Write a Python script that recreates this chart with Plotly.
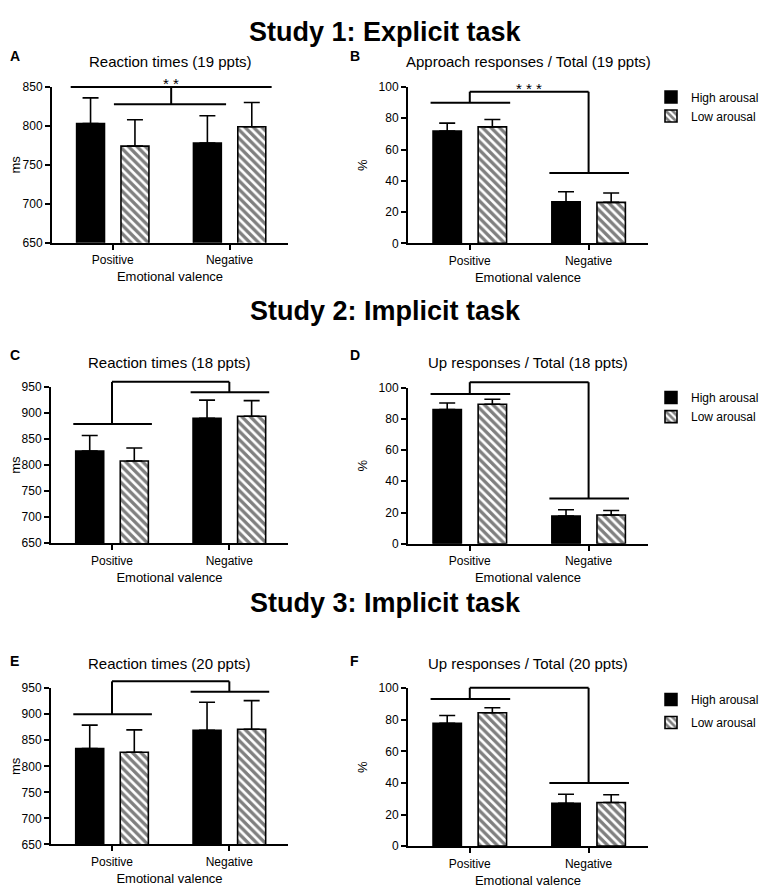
import plotly.graph_objects as go

# ---------------- data ----------------
valence = ["Positive", "Negative"]
series_names = ["High arousal", "Low arousal"]

s1_rt_high = [803, 778]
s1_rt_high_sem = [33, 35]
s1_rt_low = [774, 799]
s1_rt_low_sem = [34, 31]

s1_app_high = [71.9, 26.6]
s1_app_high_sem = [5.0, 6.4]
s1_app_low = [74.5, 26.2]
s1_app_low_sem = [4.7, 6.0]

s2_rt_high = [827, 890]
s2_rt_high_sem = [30, 35]
s2_rt_low = [808, 894]
s2_rt_low_sem = [25, 30]

s2_up_high = [86.0, 17.7]
s2_up_high_sem = [4.2, 4.1]
s2_up_low = [89.4, 18.4]
s2_up_low_sem = [3.2, 2.9]

s3_rt_high = [834, 869]
s3_rt_high_sem = [45, 54]
s3_rt_low = [827, 871]
s3_rt_low_sem = [43, 55]

s3_up_high = [77.8, 27.2]
s3_up_high_sem = [4.9, 5.7]
s3_up_low = [84.4, 27.6]
s3_up_low_sem = [3.2, 4.9]

panel_titles = ["Reaction times (19 ppts)", "Approach responses / Total (19 ppts)",
                "Reaction times (18 ppts)", "Up responses / Total (18 ppts)",
                "Reaction times (20 ppts)", "Up responses / Total (20 ppts)"]
panel_letters = ["A", "B", "C", "D", "E", "F"]
study_titles = ["Study 1: Explicit task", "Study 2: Implicit task", "Study 3: Implicit task"]
y_titles = ["ms", "%", "ms", "%", "ms", "%"]
y_ranges = [[650, 850], [0, 100], [650, 950], [0, 100], [650, 950], [0, 100]]
y_dticks = [50, 20, 50, 20, 50, 20]

# significance brackets: (group-line level Positive, top level, group-line level Negative, stars)
sig_b = [90, 97, 45, "* * *"]
sig_c = [879, 960, 940, "* * *"]
sig_d = [96, 103.5, 29, "* * *"]
sig_e = [900, 963, 943, "*"]
sig_f = [93.2, 100.2, 40, "* * *"]
# panel A: interaction bracket (outer line level, inner line level, stars)
sig_a = [850, 828, "* *"]

FONT = "Liberation Sans, Arial, sans-serif"
W, H = 767, 886
X_RANGE = [-0.52, 1.5]


# map target-picture pixels to figure pixels (page offset compensation)
def px(v):
    return v - 8


def py(v):
    return (v - 14.7) / 0.984


# plot areas in target pixels: (x0, x1, ytop, ybottom)
areas = [
    (52, 288, 86.7, 242.3),
    (408, 648, 86.7, 243.0),
    (51, 288, 386.7, 542.7),
    (408, 648, 387.3, 543.3),
    (51, 288, 687.7, 844.0),
    (408, 648, 687.7, 845.7),
]
letter_y = [56, 56, 355, 355, 661, 661]
title_y = [61, 61.5, 361.7, 361.7, 662.7, 662.7]

fig = go.Figure()

panels = [
    (s1_rt_high, s1_rt_high_sem, s1_rt_low, s1_rt_low_sem),
    (s1_app_high, s1_app_high_sem, s1_app_low, s1_app_low_sem),
    (s2_rt_high, s2_rt_high_sem, s2_rt_low, s2_rt_low_sem),
    (s2_up_high, s2_up_high_sem, s2_up_low, s2_up_low_sem),
    (s3_rt_high, s3_rt_high_sem, s3_rt_low, s3_rt_low_sem),
    (s3_up_high, s3_up_high_sem, s3_up_low, s3_up_low_sem),
]
legend_names = ["legend", "legend", "legend2", "legend2", "legend3", "legend3"]

for i, (hv, hs, lv, ls) in enumerate(panels):
    ax = "" if i == 0 else str(i + 1)
    show = (i % 2 == 1)
    fig.add_trace(go.Bar(
        x=valence, y=hv, name=series_names[0], xaxis="x" + ax, yaxis="y" + ax,
        marker=dict(color="black", line=dict(color="black", width=1.5)),
        error_y=dict(type="data", symmetric=False, array=hs, arrayminus=[0, 0],
                     color="black", thickness=1.6, width=8),
        showlegend=show, legend=legend_names[i], legendgroup="h%d" % i,
    ))
    fig.add_trace(go.Bar(
        x=valence, y=lv, name=series_names[1], xaxis="x" + ax, yaxis="y" + ax,
        marker=dict(color="white", line=dict(color="black", width=1.6),
                    pattern=dict(shape="\\", fgcolor="black", bgcolor="white",
                                 size=6, solidity=0.55)),
        error_y=dict(type="data", symmetric=False, array=ls, arrayminus=[0, 0],
                     color="black", thickness=1.6, width=8),
        showlegend=show, legend=legend_names[i], legendgroup="l%d" % i,
    ))

layout = dict(
    width=W, height=H, margin=dict(l=0, r=0, t=0, b=0),
    paper_bgcolor="white", plot_bgcolor="white",
    barmode="group", bargap=0.24, bargroupgap=0.37,
    font=dict(family=FONT, size=12, color="black"),
)

annotations = []
shapes = []

for i, (x0, x1, yt, yb) in enumerate(areas):
    ax = "" if i == 0 else str(i + 1)
    xdom = [px(x0) / W, px(x1) / W]
    ydom = [1 - py(yb) / H, 1 - py(yt) / H]
    is_right = (i % 2 == 1)
    layout["xaxis" + ax] = dict(
        domain=xdom, anchor="y" + ax, range=X_RANGE, type="category",
        showline=True, linecolor="black", linewidth=2, ticks="outside",
        ticklen=5, tickwidth=2, tickcolor="black", showgrid=False, zeroline=False,
        tickfont=dict(size=12), fixedrange=True,
        title=dict(text="Emotional valence", font=dict(size=13), standoff=6),
    )
    layout["yaxis" + ax] = dict(
        domain=ydom, anchor="x" + ax, range=y_ranges[i], dtick=y_dticks[i],
        showline=True, linecolor="black", linewidth=2, ticks="outside",
        ticklen=5, tickwidth=2, tickcolor="black", showgrid=False, zeroline=False,
        tickfont=dict(size=12), fixedrange=True,
        title=dict(text=y_titles[i], font=dict(size=13), standoff=8 if is_right else 0),
    )
    # panel title
    annotations.append(dict(
        text=panel_titles[i], xref="x%s domain" % ax, yref="paper",
        x=0.5, y=1 - py(title_y[i]) / H, xanchor="center", yanchor="middle",
        showarrow=False, font=dict(size=15),
    ))
    # panel letter
    annotations.append(dict(
        text="<b>%s</b>" % panel_letters[i], xref="paper", yref="paper",
        x=(0 if i % 2 == 0 else px(348)) / W, y=1 - py(letter_y[i]) / H,
        xanchor="left", yanchor="middle", showarrow=False, font=dict(size=14),
    ))

# study titles (the first one is kept fully inside the page)
annotations.append(dict(
    text="<b>%s</b>" % study_titles[0], xref="paper", yref="paper", x=px(385) / W, y=1,
    xanchor="center", yanchor="top", showarrow=False, font=dict(size=27),
))
for t, ty in zip(study_titles[1:], [311, 603]):
    annotations.append(dict(
        text="<b>%s</b>" % t, xref="paper", yref="paper", x=px(385) / W, y=1 - py(ty) / H,
        xanchor="center", yanchor="middle", showarrow=False, font=dict(size=27),
    ))


def xd(v):
    return (v - X_RANGE[0]) / (X_RANGE[1] - X_RANGE[0])


def yd(v, rng):
    return (v - rng[0]) / (rng[1] - rng[0])


def seg(ax, xa, ya, xb, yb, rng):
    shapes.append(dict(
        type="line", xref="x%s domain" % ax, yref="y%s domain" % ax,
        x0=xd(xa), y0=yd(ya, rng), x1=xd(xb), y1=yd(yb, rng),
        line=dict(color="black", width=2),
    ))


# panel A interaction bracket
rngA = y_ranges[0]
seg("", -0.36, sig_a[0], 1.36, sig_a[0], rngA)
seg("", 0.01, sig_a[1], 0.97, sig_a[1], rngA)
seg("", 0.5, sig_a[1], 0.5, sig_a[0], rngA)
annotations.append(dict(text=sig_a[2], xref="x", yref="y", x=0.5, y=sig_a[0],
                        xanchor="center", yanchor="bottom", yshift=-7,
                        showarrow=False, font=dict(size=15)))

for i, sig in zip([1, 2, 3, 4, 5], [sig_b, sig_c, sig_d, sig_e, sig_f]):
    ax = str(i + 1)
    rng = y_ranges[i]
    pos_l, top, neg_l, stars = sig
    seg(ax, -0.33, pos_l, 0.34, pos_l, rng)
    seg(ax, 0, pos_l, 0, top, rng)
    seg(ax, 0, top, 1, top, rng)
    seg(ax, 1, top, 1, neg_l, rng)
    seg(ax, 0.67, neg_l, 1.34, neg_l, rng)
    annotations.append(dict(text=stars, xref="x" + ax, yref="y" + ax, x=0.5, y=top,
                            xanchor="center", yanchor="bottom", yshift=-7,
                            showarrow=False, font=dict(size=15)))

layout["annotations"] = annotations
layout["shapes"] = shapes

leg_common = dict(xanchor="left", yanchor="top", bgcolor="rgba(0,0,0,0)",
                  font=dict(size=12))
leg_x = (px(690) - 39) / W
layout["legend"] = dict(x=leg_x, y=1 - (py(97) - 15) / H, traceorder="normal", **leg_common)
layout["legend2"] = dict(x=leg_x, y=1 - (py(397.5) - 15) / H, traceorder="normal", **leg_common)
layout["legend3"] = dict(x=leg_x, y=1 - (py(699.3) - 15) / H, traceorder="grouped",
                         tracegroupgap=4, **leg_common)

fig.update_layout(**layout)
fig.write_html("out.html")
